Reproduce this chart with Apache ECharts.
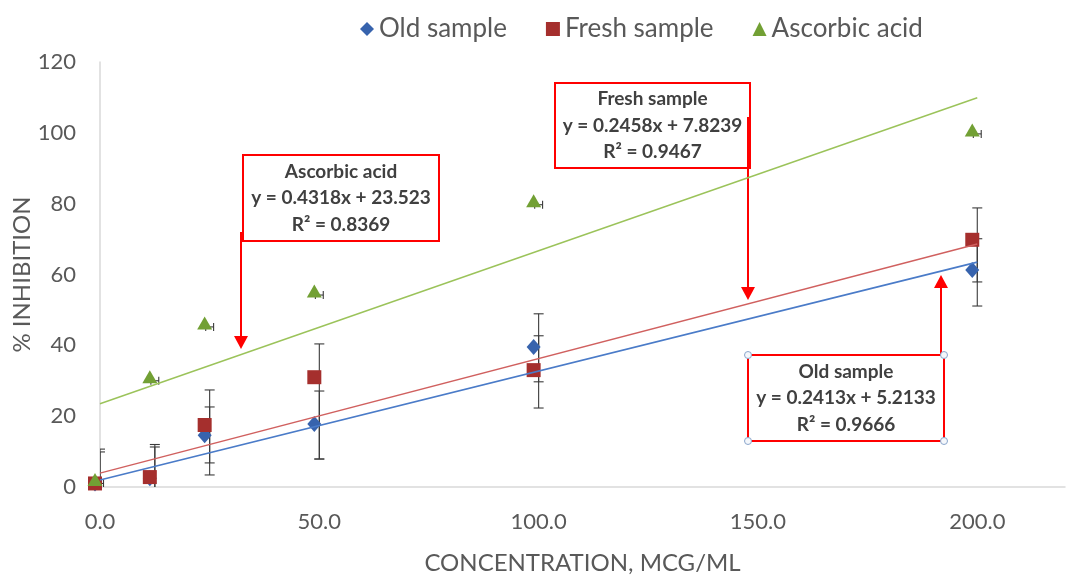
<!DOCTYPE html>
<html>
<head>
<meta charset="utf-8">
<script src="https://cdn.jsdelivr.net/npm/echarts@6/dist/echarts.min.js"></script>
<style>
  html, body { margin: 0; padding: 0; background: #fff; }
  #main { width: 1076px; height: 575px; }
</style>
</head>
<body>
<div id="main"></div>
<script>
// concentrations (mcg/ml)
var concentration = [0, 12.5, 25, 50, 100, 200];

// % inhibition
var oldSample = [1, 2.5, 14.6, 17.8, 39.5, 61.3];
var freshSample = [1, 2.8, 17.5, 31, 33, 69.8];
var ascorbicAcid = [1, 30, 45.2, 54.2, 79.7, 99.7];

// vertical error bars: [low, high]
var oldErr = [[-9, 10.7], [-9, 12], [6.8, 22.6], [7.9, 27.1], [29.7, 42.7], [57.9, 70.1]];
var freshErr = [[-9, 9.9], [-9, 11.3], [3.4, 27.4], [7.9, 40.4], [22.3, 48.9], [51.1, 78.8]];
// horizontal error bars on ascorbic acid (+/- x)
var ascorbicErrX = [0.8, 0.9, 0.9, 0.9, 0.9, 0.9];

// trendlines as drawn: value at x = 0 and x = 200
var trendX = [0, 200];
var oldTrend = [2.0, 63.5];
var freshTrend = [3.9, 68.6];
var ascorbicTrend = [23.5, 109.9];

var xTicks = [0, 50, 100, 150, 200];

function pairs(xs, ys) {
  return xs.map(function (x, i) { return [x, ys[i]]; });
}
function errRows(xs, errs) {
  return xs.map(function (x, i) { return [x, errs[i][0], errs[i][1]]; });
}

var barColor = '#3a3a3a';

function vBar(params, api) {
  var x = api.value(0);
  var top = api.coord([x, api.value(2)]);
  var bot = api.coord([x, api.value(1)]);
  var hw = 5;
  var st = { stroke: barColor, lineWidth: 1.1 };
  return {
    type: 'group',
    children: [
      { type: 'line', shape: { x1: top[0], y1: top[1], x2: bot[0], y2: bot[1] }, style: st },
      { type: 'line', shape: { x1: top[0] - hw, y1: top[1], x2: top[0] + hw, y2: top[1] }, style: st },
      { type: 'line', shape: { x1: bot[0] - hw, y1: bot[1], x2: bot[0] + hw, y2: bot[1] }, style: st }
    ]
  };
}

function hBar(params, api) {
  var x = api.value(0), y = api.value(1), dx = api.value(2);
  var l = api.coord([x - dx, y]);
  var r = api.coord([x + dx, y]);
  var hh = 4;
  var st = { stroke: barColor, lineWidth: 1.1 };
  return {
    type: 'group',
    children: [
      { type: 'line', shape: { x1: l[0], y1: l[1], x2: r[0], y2: r[1] }, style: st },
      { type: 'line', shape: { x1: l[0], y1: l[1] - hh, x2: l[0], y2: l[1] + hh }, style: st },
      { type: 'line', shape: { x1: r[0], y1: r[1] - hh, x2: r[0], y2: r[1] + hh }, style: st }
    ]
  };
}

var font = 'Lato, "Noto Sans", sans-serif';
var red = '#ff0000';
var boxText = '#404040';

function box(x, y, w, h, lines) {
  return {
    type: 'group',
    children: [
      { type: 'rect', shape: { x: x, y: y, width: w, height: h },
        style: { fill: '#fff', stroke: red, lineWidth: 2 } },
      { type: 'text', x: x + w / 2, y: y + h / 2,
        style: { text: lines.join('\n'), fill: boxText, font: 'bold 19px ' + font,
                 align: 'center', verticalAlign: 'middle', lineHeight: 26.5 } }
    ]
  };
}

function arrow(x, y1, y2) {
  var dir = y2 > y1 ? 1 : -1;
  var base = y2 - dir * 13;
  return {
    type: 'group',
    children: [
      { type: 'line', shape: { x1: x, y1: y1, x2: x, y2: base }, style: { stroke: red, lineWidth: 2 } },
      { type: 'polygon', shape: { points: [[x - 7, base], [x + 7, base], [x, y2]] }, style: { fill: red } }
    ]
  };
}

function handle(x, y) {
  return { type: 'circle', shape: { cx: x, cy: y, r: 3.5 },
           style: { fill: '#f4f7fb', stroke: '#8aa6cc', lineWidth: 1 } };
}

var myChart = echarts.init(document.getElementById('main'));

var option = {
  animation: false,
  textStyle: { fontFamily: font },
  grid: { left: 100, right: 11, top: 62, bottom: 88, outerBoundsMode: 'none', containLabel: false },
  legend: {
    left: 355,
    top: 11,
    itemWidth: 14,
    itemHeight: 14,
    itemGap: 39,
    textStyle: { fontSize: 26, color: '#595959', fontFamily: font },
    data: [
      { name: 'Old sample', icon: 'diamond' },
      { name: 'Fresh sample', icon: 'rect' },
      { name: 'Ascorbic acid', icon: 'triangle' }
    ]
  },
  xAxis: {
    type: 'value',
    min: 0,
    max: 220,
    interval: 50,
    name: 'CONCENTRATION, MCG/ML',
    nameLocation: 'middle',
    nameGap: 64,
    nameMoveOverlap: false,
    nameTextStyle: { fontSize: 24, color: '#595959', fontFamily: font },
    axisLine: { show: true, lineStyle: { color: '#d9d9d9', width: 1.5 } },
    axisTick: { show: false },
    splitLine: { show: false },
    axisLabel: {
      margin: 24,
      fontSize: 22,
      color: '#595959',
      formatter: function (v) { return xTicks.indexOf(v) >= 0 ? v.toFixed(1) : ''; }
    }
  },
  yAxis: {
    type: 'value',
    min: 0,
    max: 120,
    interval: 20,
    name: '% INHIBITION',
    nameLocation: 'middle',
    nameGap: 66,
    nameMoveOverlap: false,
    nameTextStyle: { fontSize: 24, color: '#595959', fontFamily: font },
    axisLine: { show: true, lineStyle: { color: '#d9d9d9', width: 1.5 } },
    axisTick: { show: false },
    splitLine: { show: false },
    axisLabel: { margin: 24, fontSize: 22, color: '#595959' }
  },
  series: [
    {
      name: 'Old sample', type: 'scatter', symbol: 'diamond', symbolSize: [14, 16],
      symbolOffset: [-5, 0], itemStyle: { color: '#3763ad', opacity: 1 },
      data: pairs(concentration, oldSample)
    },
    {
      name: 'Fresh sample', type: 'scatter', symbol: 'rect', symbolSize: 14,
      symbolOffset: [-5, 0], itemStyle: { color: '#a52f2d', opacity: 1 },
      data: pairs(concentration, freshSample)
    },
    {
      name: 'Ascorbic acid', type: 'scatter', symbol: 'triangle', symbolSize: [15, 13],
      symbolOffset: [-5, -4], itemStyle: { color: '#72a034', opacity: 1 },
      data: pairs(concentration, ascorbicAcid)
    },
    {
      name: 'Old err', type: 'custom', clip: true, renderItem: vBar,
      data: errRows(concentration, oldErr)
    },
    {
      name: 'Fresh err', type: 'custom', clip: true, renderItem: vBar,
      data: errRows(concentration, freshErr)
    },
    {
      name: 'Ascorbic err', type: 'custom', clip: true, renderItem: hBar,
      data: concentration.map(function (x, i) { return [x, ascorbicAcid[i], ascorbicErrX[i]]; })
    },
    {
      name: 'Old trend', type: 'line', showSymbol: false, silent: true,
      lineStyle: { color: '#4a7bc8', width: 1.6 },
      data: pairs(trendX, oldTrend)
    },
    {
      name: 'Fresh trend', type: 'line', showSymbol: false, silent: true,
      lineStyle: { color: '#d0605f', width: 1.4 },
      data: pairs(trendX, freshTrend)
    },
    {
      name: 'Ascorbic trend', type: 'line', showSymbol: false, silent: true,
      lineStyle: { color: '#9bc35a', width: 1.4 },
      data: pairs(trendX, ascorbicTrend)
    }
  ],
  graphic: [
    box(243, 155, 196, 86, ['Ascorbic acid', 'y = 0.4318x + 23.523', 'R\u00b2 = 0.8369']),
    arrow(241, 232, 349),
    box(555, 83, 195, 85, ['Fresh sample', 'y = 0.2458x + 7.8239', 'R\u00b2 = 0.9467']),
    arrow(748, 117, 300),
    box(748, 355, 196, 86, ['Old sample', 'y = 0.2413x + 5.2133', 'R\u00b2 = 0.9666']),
    arrow(941, 355, 275),
    handle(748, 355), handle(944, 355), handle(748, 441), handle(944, 441)
  ]
};
myChart.setOption(option);
</script>
</body>
</html>
